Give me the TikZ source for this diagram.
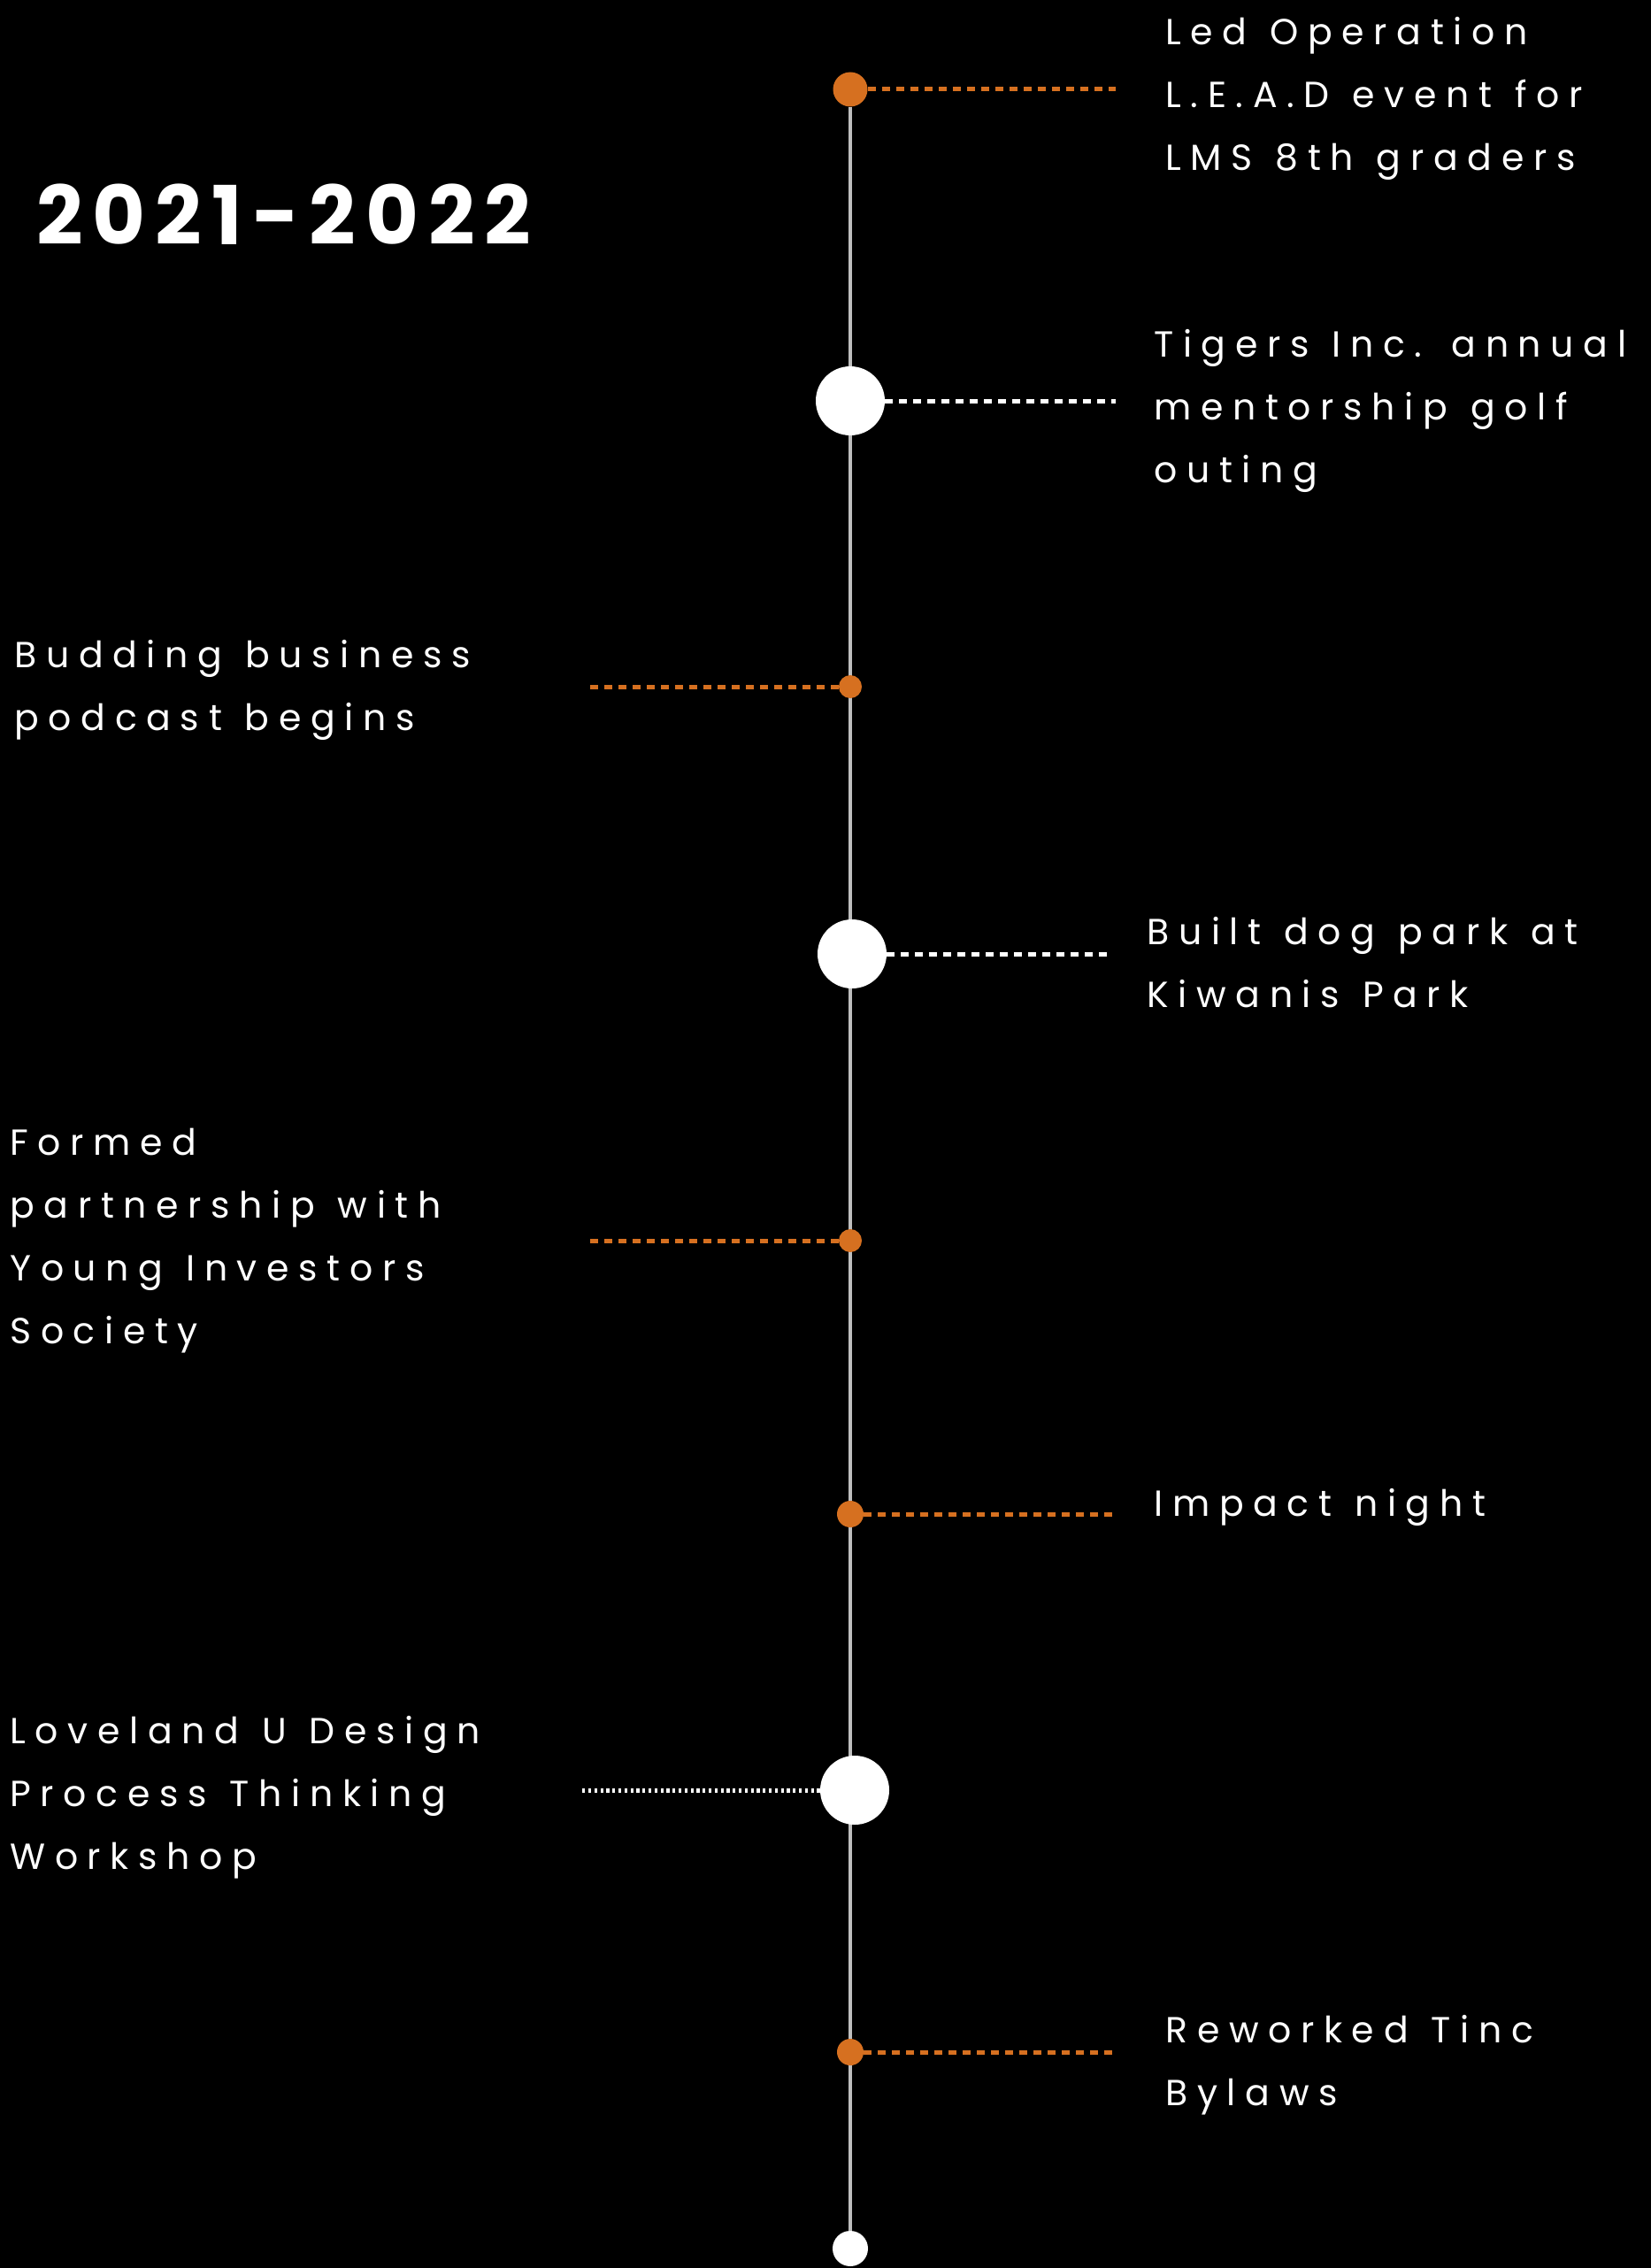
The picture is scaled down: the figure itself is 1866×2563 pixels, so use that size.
\documentclass[tikz,border=0pt]{standalone}
\usepackage{fontspec}
\setmainfont{Poppins}
\newfontfamily\notefont[LetterSpace=26,WordSpace=1.2]{Poppins}
\newfontfamily\yearfont[LetterSpace=12]{Poppins}
\usetikzlibrary{backgrounds}
\definecolor{tincorange}{RGB}{214,112,32}
\definecolor{spinegray}{RGB}{190,190,190}

\tikzset{
  bigdot/.style={circle,fill=white,inner sep=0pt,minimum size=39pt},
  smalldot/.style={circle,fill=tincorange,inner sep=0pt,minimum size=#1},
  orangelink/.style={tincorange,line width=2.5pt,dash pattern=on 4.5pt off 3.5pt},
  whitelink/.style={white,line width=2.5pt,dash pattern=on 4.5pt off 3.5pt},
  note/.style={anchor=west,align=left,inner sep=0pt,text=white,
    font=\notefont\fontsize{20.5pt}{35.5pt}\selectfont}
}

\begin{document}
\begin{tikzpicture}[x=0.5pt,y=-0.5pt]
    % dots on the time line
    \node[smalldot=19.5pt] (d1) at (961,101) {};
    \node[bigdot] (d2) at (961,453) {};
    \node[smalldot=13pt] (d3) at (961,776) {};
    \node[bigdot] (d4) at (963,1078) {};
    \node[smalldot=13pt] (d5) at (961,1402) {};
    \node[smalldot=15pt] (d6) at (961,1711) {};
    \node[bigdot] (d7) at (966,2023) {};
    \node[smalldot=15pt] (d8) at (961,2319) {};
    \node[bigdot,minimum size=20pt] (d9) at (961,2541) {};

    \begin{scope}[on background layer]
        \fill[black] (0,0) rectangle (1866,2563);
        \draw[spinegray,line width=1.6pt] (d1) -- (d9);
    \end{scope}

    % year
    \node[anchor=west,inner sep=0pt,text=white,font=\yearfont\bfseries\fontsize{46pt}{50pt}\selectfont] (year) at (41,242) {2021-2022};

    % connectors
    \coordinate (e1) at (1261,101);
    \coordinate (e2) at (1261,453);
    \coordinate (e3) at (665,776);
    \coordinate (e4) at (1258,1078);
    \coordinate (e5) at (665,1402);
    \coordinate (e6) at (1258,1711);
    \coordinate (e7) at (658,2023);
    \coordinate (e8) at (1258,2319);
    \draw[orangelink] (d1) -- (e1);
    \draw[whitelink] (d2) -- (e2);
    \draw[orangelink] (d3) -- (e3);
    \draw[whitelink] (d4) -- (e4);
    \draw[orangelink] (d5) -- (e5);
    \draw[orangelink] (d6) -- (e6);
    \draw[white,line width=2.5pt,dash pattern=on 1.6pt off 1.8pt] (d7) -- (e7);
    \draw[orangelink] (d8) -- (e8);

    % events
    \node[note] (t1) at (1317,111) {Led Operation\\L.E.A.D event for\\LMS 8th graders};
    \node[note] (t2) at (1304,464) {Tigers Inc. annual\\mentorship golf\\outing};
    \node[note] (t3) at (16,780) {Budding business\\podcast begins};
    \node[note] (t4) at (1296,1088) {Built dog park at\\Kiwanis Park};
    \node[note] (t5) at (11,1402) {Formed\\partnership with\\Young Investors\\Society};
    \node[note] (t6) at (1304,1703) {Impact night};
    \node[note] (t7) at (11,2031) {Loveland U Design\\Process Thinking\\Workshop};
    \node[note] (t8) at (1317,2334) {Reworked Tinc\\Bylaws};
\end{tikzpicture}
\end{document}
